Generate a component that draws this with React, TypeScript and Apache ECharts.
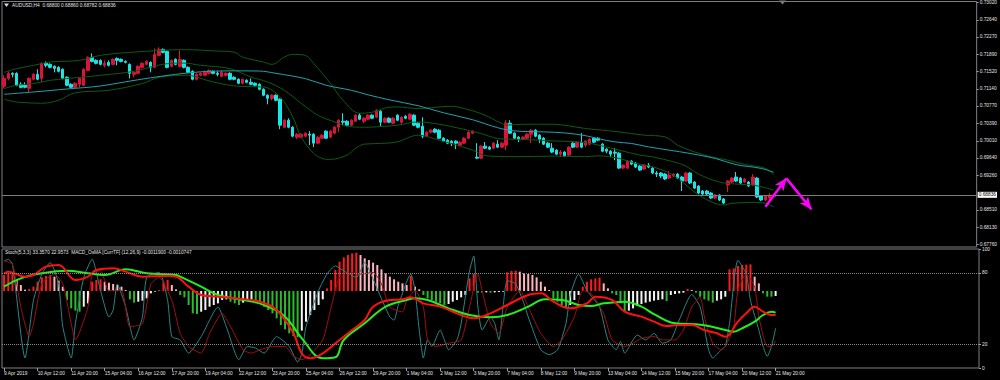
import React, { useEffect, useRef } from 'react';
import * as echarts from 'echarts';

const symbolTitle = 'AUDUSD,H4  0.68800 0.68860 0.68782 0.68836';
const indicatorTitle = 'Stoch(5,3,3) 33.3570 22.9573  MACD_OsMA [CurrTF] (12,26,9) -0.0011900 -0.0010747';

const tradingDays = ['9 Apr', '10 Apr', '11 Apr', '12 Apr', '15 Apr', '16 Apr', '17 Apr', '18 Apr', '19 Apr', '22 Apr', '23 Apr', '24 Apr', '25 Apr', '26 Apr', '29 Apr', '30 Apr', '1 May', '2 May', '3 May', '6 May', '7 May', '8 May', '9 May', '10 May', '13 May', '14 May', '15 May', '16 May', '17 May', '20 May', '21 May'];
const barHours = ['00:00', '04:00', '08:00', '12:00', '16:00', '20:00'];
const firstLabel = '9 Apr 2019';
const totalSlots = 233;

const priceTicks = [0.7302, 0.7264, 0.7227, 0.7189, 0.7152, 0.7114, 0.7077, 0.7039, 0.7001, 0.6964, 0.6926, 0.6851, 0.6813, 0.6776];
const stochTicks = [0, 20, 80, 100];
const stochLevels = [20, 80];
const bidPrice = 0.68836;

// [open, close, low, high]
const candles = [
[0.71197,0.71370,0.71153,0.71436],[0.71370,0.71479,0.71327,0.71522],[0.71479,0.71457,0.71392,0.71501],[0.71479,0.71219,0.71197,0.71501],
[0.71240,0.71175,0.71153,0.71284],[0.71219,0.71175,0.71153,0.71284],[0.71153,0.71370,0.71067,0.71392],[0.71349,0.71457,0.71327,0.71479],
[0.71457,0.71349,0.71327,0.71566],[0.71370,0.71696,0.71284,0.71718],[0.71696,0.71653,0.71609,0.71739],[0.71674,0.71609,0.71587,0.71696],
[0.71631,0.71587,0.71501,0.71653],[0.71609,0.71522,0.71501,0.71631],[0.71566,0.71370,0.71349,0.71587],[0.71392,0.71219,0.71197,0.71414],
[0.71240,0.71175,0.71153,0.71262],[0.71175,0.71262,0.71153,0.71284],[0.71240,0.71370,0.71175,0.71392],[0.71219,0.71566,0.71197,0.71587],
[0.71544,0.71826,0.71522,0.71848],[0.71826,0.71739,0.71718,0.71913],[0.71761,0.71696,0.71674,0.71783],[0.71761,0.71674,0.71653,0.71783],
[0.71653,0.71696,0.71609,0.71761],[0.71718,0.71653,0.71631,0.71761],[0.71674,0.71783,0.71653,0.71804],[0.71804,0.71761,0.71653,0.71826],
[0.71783,0.71739,0.71718,0.71804],[0.71739,0.71718,0.71696,0.71761],[0.71674,0.71479,0.71370,0.71696],[0.71457,0.71501,0.71392,0.71522],
[0.71479,0.71631,0.71457,0.71653],[0.71609,0.71696,0.71587,0.71718],[0.71674,0.71739,0.71653,0.71761],[0.71718,0.71609,0.71501,0.71739],
[0.71609,0.71891,0.71587,0.72021],[0.71870,0.72000,0.71848,0.72043],[0.72000,0.71935,0.71913,0.72021],[0.71956,0.71609,0.71587,0.71978],
[0.71631,0.71761,0.71609,0.71783],[0.71783,0.71674,0.71653,0.71804],[0.71631,0.71783,0.71609,0.71978],[0.71761,0.71609,0.71587,0.71783],
[0.71609,0.71501,0.71479,0.71631],[0.71522,0.71349,0.71327,0.71544],[0.71349,0.71457,0.71327,0.71479],[0.71436,0.71479,0.71414,0.71501],
[0.71436,0.71501,0.71414,0.71544],[0.71479,0.71544,0.71457,0.71566],[0.71522,0.71479,0.71457,0.71544],[0.71479,0.71457,0.71414,0.71522],
[0.71414,0.71501,0.71392,0.71544],[0.71436,0.71479,0.71414,0.71501],[0.71479,0.71349,0.71327,0.71501],[0.71392,0.71349,0.71327,0.71414],
[0.71349,0.71262,0.71240,0.71370],[0.71262,0.71349,0.71240,0.71370],[0.71327,0.71284,0.71262,0.71349],[0.71284,0.71240,0.71219,0.71370],
[0.71262,0.71219,0.71197,0.71284],[0.71240,0.71132,0.71110,0.71262],[0.71132,0.71002,0.70980,0.71153],[0.71002,0.70936,0.70806,0.71023],
[0.70936,0.71002,0.70893,0.71023],[0.71002,0.70893,0.70871,0.71023],[0.70915,0.70351,0.70264,0.70936],[0.70307,0.70459,0.70285,0.70481],
[0.70459,0.70307,0.70285,0.70502],[0.70307,0.70112,0.70090,0.70329],[0.70090,0.70155,0.70047,0.70177],[0.70090,0.70155,0.70068,0.70177],
[0.70112,0.70177,0.70090,0.70199],[0.70155,0.70134,0.69917,0.70220],[0.70155,0.69960,0.69873,0.70177],[0.69960,0.70090,0.69938,0.70112],
[0.70068,0.70134,0.70047,0.70155],[0.70220,0.70068,0.70047,0.70242],[0.70090,0.70220,0.70068,0.70242],[0.70177,0.70307,0.70155,0.70329],
[0.70307,0.70459,0.70199,0.70481],[0.70437,0.70416,0.70351,0.70611],[0.70437,0.70351,0.70329,0.70459],[0.70351,0.70459,0.70329,0.70481],
[0.70437,0.70568,0.70416,0.70589],[0.70568,0.70481,0.70459,0.70611],[0.70437,0.70502,0.70394,0.70524],[0.70481,0.70568,0.70459,0.70589],
[0.70568,0.70502,0.70481,0.70589],[0.70524,0.70676,0.70502,0.70698],[0.70654,0.70416,0.70329,0.70676],[0.70416,0.70502,0.70394,0.70524],
[0.70502,0.70416,0.70394,0.70524],[0.70394,0.70502,0.70372,0.70524],[0.70568,0.70459,0.70437,0.70589],[0.70416,0.70524,0.70351,0.70546],
[0.70546,0.70502,0.70481,0.70568],[0.70481,0.70589,0.70459,0.70611],[0.70568,0.70351,0.70329,0.70589],[0.70394,0.70307,0.70285,0.70416],
[0.70329,0.70112,0.70068,0.70524],[0.70112,0.70199,0.70090,0.70220],[0.70199,0.70242,0.70177,0.70264],[0.70264,0.70199,0.70177,0.70285],
[0.70242,0.70068,0.70047,0.70264],[0.70068,0.70003,0.69982,0.70090],[0.70025,0.69960,0.69938,0.70047],[0.70003,0.69960,0.69895,0.70025],
[0.70003,0.69960,0.69830,0.70025],[0.69917,0.69982,0.69895,0.70003],[0.69960,0.70068,0.69938,0.70090],[0.70068,0.70199,0.70047,0.70220],
[0.70177,0.70220,0.70155,0.70242],[0.69656,0.69634,0.69613,0.69960],[0.69634,0.69895,0.69613,0.69917],[0.69895,0.69851,0.69830,0.69982],
[0.69873,0.69830,0.69808,0.69895],[0.69851,0.69960,0.69830,0.69982],[0.69938,0.69873,0.69851,0.70025],[0.69873,0.69960,0.69851,0.69982],
[0.69917,0.70394,0.69808,0.70459],[0.70394,0.70177,0.70155,0.70459],[0.70177,0.70068,0.70047,0.70199],[0.70090,0.70047,0.69982,0.70112],
[0.70047,0.70090,0.70025,0.70112],[0.70068,0.70155,0.70047,0.70177],[0.70155,0.70242,0.69960,0.70264],[0.70242,0.70112,0.70090,0.70264],
[0.70134,0.70047,0.69960,0.70155],[0.70068,0.69938,0.69917,0.70090],[0.69960,0.69873,0.69851,0.69982],[0.69851,0.69765,0.69743,0.69960],
[0.69808,0.69721,0.69700,0.69830],[0.69721,0.69765,0.69656,0.69808],[0.69765,0.69678,0.69656,0.69786],[0.69700,0.69873,0.69678,0.69895],
[0.69960,0.69873,0.69851,0.69982],[0.69873,0.69982,0.69851,0.70003],[0.69982,0.69873,0.69851,0.70177],[0.69917,0.70003,0.69873,0.70025],
[0.69938,0.70047,0.69917,0.70068],[0.70068,0.69982,0.69960,0.70090],[0.70068,0.70025,0.70003,0.70090],[0.69938,0.69786,0.69765,0.69960],
[0.69830,0.69786,0.69743,0.69851],[0.69786,0.69721,0.69656,0.69808],[0.69765,0.69743,0.69591,0.69851],[0.69743,0.69417,0.69396,0.69765],
[0.69417,0.69483,0.69396,0.69504],[0.69417,0.69569,0.69396,0.69591],[0.69569,0.69504,0.69483,0.69591],[0.69526,0.69439,0.69417,0.69548],
[0.69461,0.69374,0.69352,0.69483],[0.69396,0.69483,0.69374,0.69504],[0.69483,0.69439,0.69417,0.69526],[0.69417,0.69309,0.69287,0.69439],
[0.69309,0.69287,0.69222,0.69352],[0.69309,0.69244,0.69200,0.69331],[0.69287,0.69179,0.69157,0.69309],[0.69200,0.69266,0.69179,0.69352],
[0.69244,0.69287,0.69222,0.69309],[0.69287,0.69200,0.69179,0.69309],[0.69222,0.69135,0.68918,0.69244],[0.69135,0.69309,0.69114,0.69331],
[0.69309,0.69092,0.69070,0.69331],[0.69114,0.68983,0.68962,0.69135],[0.69027,0.68875,0.68853,0.69049],[0.68918,0.68853,0.68832,0.68940],
[0.68918,0.68853,0.68832,0.68940],[0.68875,0.68766,0.68745,0.68897],[0.68766,0.68832,0.68745,0.68853],[0.68832,0.68723,0.68701,0.68853],
[0.68745,0.68658,0.68636,0.68766],[0.69049,0.69135,0.68897,0.69157],[0.69114,0.69200,0.69092,0.69222],[0.69222,0.69135,0.69114,0.69331],
[0.69200,0.69092,0.69070,0.69222],[0.69114,0.69179,0.69092,0.69200],[0.69114,0.69027,0.69005,0.69135],[0.69049,0.69222,0.69027,0.69287],
[0.69200,0.68788,0.68766,0.69222],[0.68810,0.68723,0.68701,0.68832],[0.68723,0.68810,0.68701,0.68832],[0.68766,0.68832,0.68680,0.68875],
[0.68800,0.68836,0.68782,0.68860],
];

// [bar index, price]
const bbUpper = [[0,0.71501],[3,0.71580],[7,0.71653],[11,0.71725],[18,0.71761],[23,0.71870],[31,0.71941],[43,0.71994],[51,0.71963],[55,0.71941],[57,0.71833],[62,0.71724],[64,0.71674],[67,0.71833],[69,0.71891],[72,0.71870],[74,0.71696],[78,0.71262],[81,0.70893],[85,0.70611],[88,0.70633],[92,0.70741],[94,0.70748],[99,0.70713],[107,0.70763],[109,0.70735],[114,0.70604],[119,0.70387],[120,0.70351],[124,0.70372],[131,0.70372],[139,0.70279],[147,0.70205],[153,0.70134],[158,0.70097],[161,0.69917],[165,0.69771],[169,0.69663],[173,0.69591],[177,0.69498],[182,0.69411],[184,0.69266]];
const bbMiddle = [[0,0.71147],[3,0.71219],[7,0.71256],[11,0.71327],[15,0.71364],[19,0.71399],[23,0.71436],[31,0.71522],[35,0.71616],[39,0.71689],[43,0.71702],[47,0.71653],[54,0.71581],[59,0.71399],[63,0.71290],[67,0.71110],[71,0.70828],[75,0.70568],[79,0.70422],[82,0.70329],[86,0.70307],[89,0.70314],[94,0.70351],[99,0.70422],[104,0.70372],[109,0.70279],[114,0.70170],[118,0.70062],[124,0.70040],[131,0.70010],[139,0.69971],[147,0.69808],[152,0.69700],[155,0.69663],[160,0.69554],[163,0.69461],[166,0.69287],[171,0.69114],[176,0.69064],[179,0.69049],[182,0.68990],[184,0.68940]];
const bbLower = [[0,0.70915],[3,0.70856],[9,0.70828],[13,0.70893],[17,0.71056],[25,0.71110],[33,0.71256],[37,0.71392],[44,0.71436],[47,0.71370],[50,0.71290],[56,0.71197],[62,0.71182],[66,0.70965],[69,0.70531],[71,0.70097],[74,0.69736],[76,0.69628],[78,0.69606],[82,0.69700],[84,0.69845],[86,0.69938],[90,0.69953],[94,0.69988],[99,0.70134],[104,0.70025],[109,0.69895],[112,0.69808],[114,0.69721],[116,0.69678],[124,0.69667],[131,0.69678],[139,0.69667],[142,0.69684],[147,0.69628],[151,0.69520],[155,0.69446],[160,0.69266],[165,0.68903],[169,0.68686],[172,0.68614],[174,0.68651],[179,0.68673],[182,0.68651],[184,0.68577]];
const maLine = [[0,0.71023],[7,0.71073],[15,0.71138],[23,0.71203],[29,0.71294],[35,0.71381],[41,0.71457],[47,0.71512],[54,0.71533],[61,0.71529],[65,0.71479],[72,0.71364],[77,0.71219],[83,0.71110],[87,0.71012],[92,0.70904],[99,0.70774],[105,0.70622],[112,0.70470],[118,0.70296],[122,0.70227],[129,0.70205],[134,0.70183],[139,0.70123],[142,0.70058],[146,0.69988],[150,0.69953],[154,0.69880],[159,0.69808],[164,0.69736],[170,0.69628],[175,0.69493],[181,0.69411],[184,0.69324]];

// Stochastic (5,3,3): [bar index, value]
const stochMain = [[0,90],[1,91.3],[2,87.2],[5,8.4],[7,56.8],[9,78.9],[11,88.6],[13,70.6],[14,34.7],[16,8.4],[17,37.4],[19,76.1],[21,91.3],[23,65.1],[25,42.9],[26,48.5],[27,70.6],[29,51.2],[31,23.6],[33,42.9],[34,76.1],[37,80.3],[39,56.8],[40,26.4],[42,23.6],[44,12.5],[47,26.4],[51,51.2],[53,34.7],[56,7.0],[58,18.1],[60,16.7],[62,12.5],[65,26.4],[68,18.1],[70,5],[71,12],[72,34.7],[75,65.1],[77,78.9],[79,85.8],[81,81.7],[84,76.1],[86,88.6],[88,74.7],[90,58.2],[92,42.9],[93,40.2],[94,52.6],[97,78.9],[98,65.1],[99,31.9],[100,8.4],[101,23.6],[102,18.1],[104,31.9],[105,23.6],[106,15.3],[108,23.6],[109,37.4],[111,81.7],[112,94.1],[113,51.2],[114,31.9],[116,42.9],[117,37.4],[118,23.6],[119,51.2],[120,73.4],[122,70.6],[124,54],[125,42.9],[128,15.3],[130,11.2],[132,15.3],[134,37.4],[135,60.9],[137,78.9],[139,65.1],[142,51.2],[144,23.6],[146,15.3],[147,22.2],[148,12.5],[150,23.6],[151,27.7],[153,23.6],[155,29.1],[157,20.8],[159,23.6],[161,40.2],[164,61.8],[166,51.2],[168,15.3],[169,8.4],[171,15.3],[172,18.1],[173,37.4],[175,90.5],[177,78.9],[178,56.8],[180,31.9],[181,18.1],[182,9.8],[183,18.1],[184,33.357]];
const stochSignal = [[0,90],[2,87.2],[4,51.2],[6,26.4],[7,37.4],[9,70.6],[12,78.9],[14,70.6],[16,37.4],[17,23.6],[20,51.2],[21,78.9],[23,81.7],[25,65.1],[28,65.1],[30,34.7],[33,37.4],[35,70.6],[37,76.1],[40,56.8],[42,29.1],[44,18.1],[47,12.5],[49,29.1],[52,45.7],[54,34.7],[57,15.3],[59,12.5],[61,15.3],[64,18.1],[67,18.1],[69,9.8],[71,7.0],[73,11.2],[76,23.6],[78,51.2],[80,76.1],[83,80.3],[85,78.9],[88,80.3],[90,70.6],[92,51.2],[95,47.1],[96,56.8],[98,65.1],[100,51.2],[101,23.6],[103,18.1],[106,20.8],[109,23.6],[111,51.2],[113,78.9],[114,65.1],[116,37.4],[118,29.1],[120,51.2],[123,65.1],[125,51.2],[128,29.1],[131,18.1],[133,23.6],[136,42.9],[138,65.1],[140,62.3],[143,45.7],[145,23.6],[148,18.1],[150,20.8],[152,25],[155,26.4],[157,23.6],[160,23.6],[162,31.9],[164,51.2],[166,59.5],[167,42.9],[169,20.8],[171,15.3],[172,18.1],[174,34.7],[175,65.1],[177,78.9],[179,67.9],[180,42.9],[182,18.1],[183,18.1],[184,22.957]];

// MACD (12,26,9) lines: [bar index, value]
const macdMain = [[0,0.000876],[1,0.000959],[5,0.000711],[7,0.000793],[10,0.001207],[13,0.001289],[17,0.000545],[20,0.000711],[22,0.001041],[26,0.001124],[29,0.000959],[33,0.000711],[39,0.000744],[41,0.000711],[44,0.000215],[47,-0.000198],[51,-0.000281],[55,-0.000364],[61,-0.000529],[65,-0.000942],[69,-0.0021],[71,-0.0031],[73,-0.00334],[76,-0.003091],[80,-0.00243],[83,-0.001934],[86,-0.001438],[88,-0.000777],[92,-0.000446],[95,-0.000413],[97,-0.000314],[100,-0.000612],[104,-0.000777],[109,-0.00119],[112,-0.001355],[116,-0.001108],[120,-0.000694],[125,-0.000198],[128,-0.000116],[131,-0.000529],[135,-0.00086],[139,-0.000612],[141,-0.000281],[145,-0.000446],[148,-0.001025],[152,-0.001273],[155,-0.001521],[158,-0.001736],[161,-0.001686],[164,-0.001686],[167,-0.001934],[170,-0.002099],[172,-0.002265],[175,-0.001521],[177,-0.001108],[179,-0.000777],[181,-0.001025],[183,-0.00119],[184,-0.00119]];
const macdSignal = [[0,0.000215],[4,0.000628],[9,0.000876],[15,0.001008],[20,0.000876],[24,0.000793],[29,0.001074],[34,0.000876],[41,0.000793],[42,0.000711],[47,0.000215],[51,-0.000198],[57,-0.000446],[62,-0.000694],[67,-0.001273],[71,-0.002347],[76,-0.003339],[79,-0.003289],[81,-0.00243],[86,-0.001603],[91,-0.000777],[96,-0.000446],[98,-0.000364],[101,-0.000446],[106,-0.00086],[111,-0.00119],[116,-0.001306],[120,-0.00119],[125,-0.000777],[129,-0.000413],[133,-0.000446],[137,-0.000694],[140,-0.000744],[143,-0.000612],[148,-0.000529],[152,-0.000777],[155,-0.00115],[160,-0.001603],[165,-0.001653],[168,-0.001736],[172,-0.001934],[174,-0.002017],[176,-0.001851],[179,-0.001521],[181,-0.00119],[183,-0.001025],[184,-0.0010747]];

// OsMA histogram, one value per bar
const osma = [
0.000326,0.000360,0.000381,0.000238,0.000122,0.000027,0.000041,0.000088,0.000190,0.000279,
0.000306,0.000326,0.000292,0.000211,0.000088,-0.000184,-0.000354,-0.000401,-0.000422,-0.000320,
-0.000252,0.000190,0.000224,0.000238,0.000190,0.000170,0.000143,0.000122,0.000088,0.000020,
-0.000170,-0.000238,-0.000218,-0.000197,-0.000150,-0.000048,-0.000014,0.000020,0.000190,0.000224,
0.000122,0.000034,-0.000082,-0.000129,-0.000286,-0.000456,-0.000469,-0.000422,-0.000388,-0.000320,
-0.000286,-0.000252,-0.000184,-0.000170,-0.000218,-0.000252,-0.000286,-0.000238,-0.000197,-0.000170,
-0.000218,-0.000252,-0.000320,-0.000388,-0.000456,-0.000558,-0.000694,-0.000782,-0.000864,-0.000918,
-0.000945,-0.000809,-0.000626,-0.000490,-0.000388,-0.000286,-0.000170,0.000054,0.000224,0.000428,
0.000598,0.000687,0.000734,0.000768,0.000782,0.000734,0.000666,0.000632,0.000578,0.000530,
0.000442,0.000360,0.000292,0.000238,0.000190,0.000156,0.000122,0.000306,0.000088,0.000034,
-0.000082,-0.000150,-0.000184,-0.000218,-0.000252,-0.000286,-0.000265,-0.000218,-0.000184,-0.000129,
-0.000082,0.000258,0.000347,-0.000034,-0.000034,-0.000027,-0.000034,-0.000027,-0.000020,-0.000014,
0.000381,0.000408,0.000415,0.000394,0.000360,0.000347,0.000326,0.000279,0.000190,0.000088,
0.000020,-0.000150,-0.000218,-0.000286,-0.000354,-0.000286,-0.000184,-0.000082,0.000088,0.000190,
0.000238,0.000258,0.000272,0.000156,0.000054,-0.000048,-0.000082,-0.000252,-0.000422,-0.000401,
-0.000354,-0.000306,-0.000265,-0.000238,-0.000218,-0.000197,-0.000184,-0.000170,-0.000204,-0.000082,
-0.000061,-0.000048,-0.000034,0.000041,0.000020,-0.000034,-0.000116,-0.000170,-0.000197,-0.000238,
-0.000197,-0.000170,-0.000116,0.000442,0.000462,0.000510,0.000530,0.000537,0.000544,0.000292,
0.000156,-0.000048,-0.000116,-0.000116,-0.000102,
];

// hand-drawn arrows: [bar position, price]
const arrowPoints = [[181.9, 0.68578], [186.6, 0.69194], [193.4, 0.68521]];

const FONT = '"Liberation Sans", Arial, sans-serif';
const FS = 4.8;
const TXT = '#e6e6e6';
const UP = '#dc143c';
const DOWN = '#19e6e6';

const categories: string[] = [];
tradingDays.forEach((d) => barHours.forEach((h) => categories.push(`${d} ${h}`)));
categories.shift();
const barCount = categories.length;
for (let i = barCount; i < totalSlots; i++) categories.push(`+${i}`);

const osmaColor = (i: number) => {
  const v = osma[i];
  const p = i > 0 ? osma[i - 1] : v;
  if (v >= 0) return v >= p ? '#ff1a1a' : '#ffb3c1';
  return v <= p ? '#2dbb2d' : '#f4f4f4';
};

const showTick = (i: number) => i % 8 === 0 && i < barCount;

const lineSeries = (name: string, data: number[][], color: string, width: number, xi: number, yi: number, smooth: number) => ({
  name, type: 'line', data, xAxisIndex: xi, yAxisIndex: yi, showSymbol: false, symbol: 'none',
  smooth, lineStyle: { color, width }, silent: true,
});

const option: any = {
  animation: false,
  backgroundColor: '#000000',
  textStyle: { fontFamily: FONT },
  grid: [
    { left: 2, right: 21, top: 1, height: 246, show: true, borderColor: '#808080', borderWidth: 1 },
    { left: 2, right: 21, top: 249, height: 119, show: true, borderColor: '#808080', borderWidth: 1 },
  ],
  xAxis: [
    { type: 'category', gridIndex: 0, data: categories, boundaryGap: true, axisLine: { show: false }, axisTick: { show: false }, axisLabel: { show: false }, splitLine: { show: false } },
    {
      type: 'category', gridIndex: 1, data: categories, boundaryGap: true, axisLine: { show: false },
      axisTick: { show: true, interval: (i: number) => showTick(i), alignWithLabel: true, length: 3, lineStyle: { color: '#a0a0a0' } },
      axisLabel: { interval: (i: number) => showTick(i), align: 'left', color: TXT, fontSize: FS, fontFamily: FONT, margin: 3, formatter: (v: string, i: number) => (i === 0 ? firstLabel : i < barCount ? v : '') },
      splitLine: { show: false },
    },
  ],
  yAxis: [
    {
      type: 'value', gridIndex: 0, position: 'right', min: 0.67701, max: 0.73042, splitLine: { show: false }, axisLine: { show: false },
      axisTick: { show: true, length: 2, customValues: priceTicks, lineStyle: { color: '#a0a0a0' } },
      axisLabel: { customValues: priceTicks, formatter: (v: number) => v.toFixed(5), color: TXT, fontSize: FS, fontFamily: FONT, margin: 3 },
    },
    {
      type: 'value', gridIndex: 1, position: 'right', min: 0, max: 100, splitLine: { show: false }, axisLine: { show: false },
      axisTick: { show: true, length: 2, customValues: stochTicks, lineStyle: { color: '#a0a0a0' } },
      axisLabel: { customValues: stochTicks, color: TXT, fontSize: FS, fontFamily: FONT, margin: 3 },
    },
    { type: 'value', gridIndex: 1, min: -0.003819, max: 0.002083, show: false, splitLine: { show: false } },
    { type: 'value', gridIndex: 1, min: -0.001571, max: 0.000857, show: false, splitLine: { show: false } },
  ],
  series: [
    {
      name: 'AUDUSD', type: 'candlestick', xAxisIndex: 0, yAxisIndex: 0, data: candles, barWidth: 3, silent: true,
      itemStyle: { color: UP, color0: DOWN, borderColor: UP, borderColor0: DOWN, borderWidth: 1 },
    },
    lineSeries('BB upper', bbUpper, '#0f5a12', 1, 0, 0, 0.35),
    lineSeries('BB middle', bbMiddle, '#0f5a12', 1, 0, 0, 0.35),
    lineSeries('BB lower', bbLower, '#0f5a12', 1, 0, 0, 0.35),
    {
      ...lineSeries('MA', maLine, '#1fa3ad', 1, 0, 0, 0.35),
      markLine: {
        silent: true, symbol: 'none', animation: false, precision: 5,
        lineStyle: { color: '#7c7c7c', type: 'solid', width: 1 },
        label: { show: true, position: 'end', formatter: bidPrice.toFixed(5), color: '#000', backgroundColor: '#ffffff', fontSize: FS, fontFamily: FONT, padding: [1, 1, 0, 1], distance: 1 },
        data: [{ yAxis: bidPrice }],
      },
    },
    {
      name: 'arrows', type: 'line', data: [], xAxisIndex: 0, yAxisIndex: 0, silent: true,
      markLine: {
        silent: true, animation: false, precision: 5, symbol: ['none', 'arrow'], symbolSize: [8, 12],
        lineStyle: { color: '#ff00ff', width: 2.5, type: 'solid' },
        label: { show: false },
        data: [
          [{ coord: arrowPoints[0] }, { coord: arrowPoints[1] }],
          [{ coord: arrowPoints[1] }, { coord: arrowPoints[2] }],
        ],
      },
    },
    {
      name: 'OsMA', type: 'bar', xAxisIndex: 1, yAxisIndex: 3, data: osma, barWidth: 2, silent: true,
      itemStyle: { color: (p: any) => osmaColor(p.dataIndex) },
    },
    {
      ...lineSeries('Stoch main', stochMain, '#2b8585', 1, 1, 1, 0.2),
      markLine: {
        silent: true, symbol: 'none', animation: false, label: { show: false },
        lineStyle: { color: '#8a8a8a', type: 'dotted', width: 1 },
        data: stochLevels.map((v) => ({ yAxis: v })),
      },
    },
    lineSeries('Stoch signal', stochSignal, '#a01010', 1, 1, 1, 0.2),
    lineSeries('MACD signal', macdSignal, '#22ee22', 2, 1, 2, 0.4),
    lineSeries('MACD main', macdMain, '#ff1010', 2, 1, 2, 0.4),
  ],
  graphic: [
    { type: 'polygon', shape: { points: [[4, 3.5], [9, 3.5], [6.5, 7]] }, style: { fill: '#d8d8d8' }, silent: true },
    { type: 'text', x: 12, y: 5.5, silent: true, style: { text: symbolTitle, fill: TXT, fontSize: FS, fontFamily: FONT, verticalAlign: 'middle' } },
    { type: 'text', x: 5, y: 252.5, silent: true, style: { text: indicatorTitle, fill: TXT, fontSize: FS, fontFamily: FONT, verticalAlign: 'middle' } },
    { type: 'polygon', shape: { points: [[779, 0.5], [786, 0.5], [782.5, 4.5]] }, style: { fill: '#7a7a7a' }, silent: true },
  ],
};

export default function App() {
  const ref = useRef<HTMLDivElement>(null);
  useEffect(() => {
    if (!ref.current) return;
    const chart = echarts.init(ref.current, null, { renderer: 'svg' });
    chart.setOption(option);
    return () => chart.dispose();
  }, []);
  return <div ref={ref} style={{ position: 'absolute', left: 0, top: 0, width: 1000, height: 380, background: '#000' }} />;
}
